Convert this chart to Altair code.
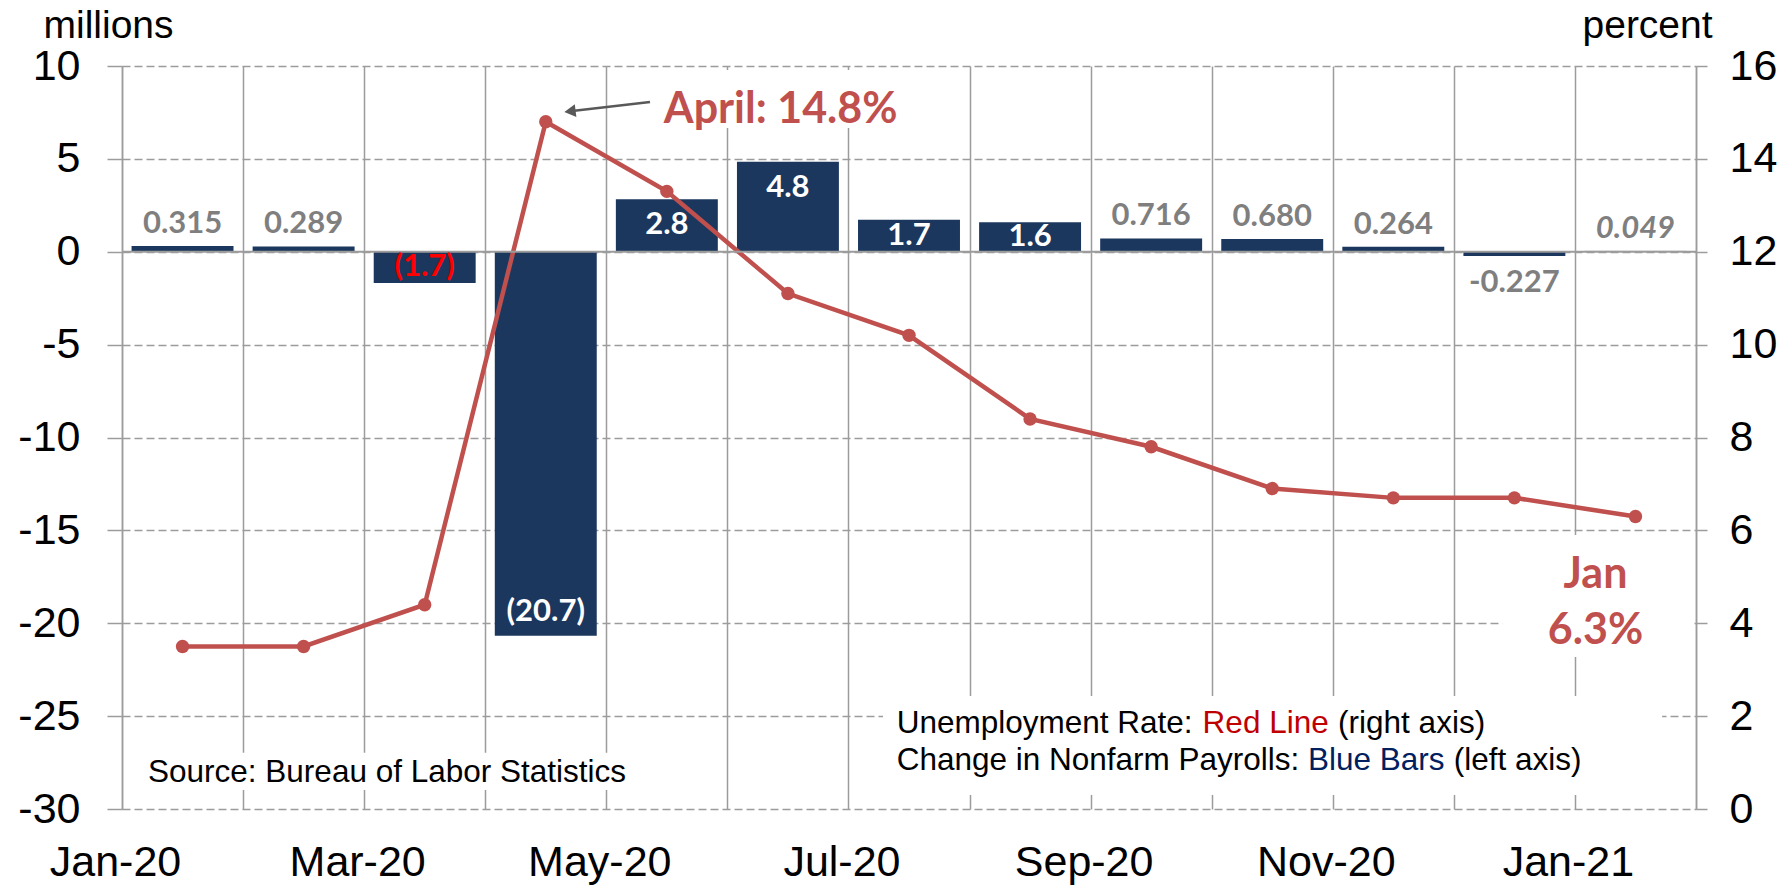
import altair as alt
import pandas as pd

# ---------------- data ----------------
months = ["Jan-20", "Feb-20", "Mar-20", "Apr-20", "May-20", "Jun-20", "Jul-20",
          "Aug-20", "Sep-20", "Oct-20", "Nov-20", "Dec-20", "Jan-21"]
payrolls = [0.315, 0.289, -1.683, -20.679, 2.833, 4.846, 1.726, 1.583,
            0.716, 0.680, 0.264, -0.227, 0.049]
payroll_labels = ["0.315", "0.289", "(1.7)", "(20.7)", "2.8", "4.8", "1.7", "1.6",
                  "0.716", "0.680", "0.264", "-0.227", "0.049"]
unemployment = [3.5, 3.5, 4.4, 14.8, 13.3, 11.1, 10.2, 8.4, 7.8, 6.9, 6.7, 6.7, 6.3]
left_ticks = [-30, -25, -20, -15, -10, -5, 0, 5, 10]
right_ticks = [0, 2, 4, 6, 8, 10, 12, 14, 16]

# annotations (positions in data units: x = month slot, y = left axis millions)
red_notes = ["April: 14.8%", "Jan", "6.3%"]
red_notes_x = [5.44, 12.17, 12.17]
red_notes_y = [6.93, -18.09, -21.12]

legend_texts = ["Unemployment Rate: ", "Red Line", "(right axis)",
                "Change in Nonfarm Payrolls: ", "Blue Bars", "(left axis)"]
legend_x = [6.398, 8.925, 10.044, 6.398, 9.795, 10.999]
legend_y = [-25.89, -25.89, -25.89, -27.9, -27.9, -27.9]
legend_colors = ["#000000", "#C00000", "#000000", "#000000", "#002060", "#000000"]

source_text = ["Source: Bureau of Labor Statistics"]
source_x = [0.215]
source_y = [-28.53]

box_x0 = [4.40, 11.40, 0.05, 6.285]
box_x1 = [6.47, 12.97, 4.28, 12.72]
box_y0 = [9.78, -15.25, -26.97, -23.92]
box_y1 = [6.66, -21.82, -28.98, -29.25]

# ---------------- styles ----------------
GRID = "#9C9C9C"
BAR = "#1B375E"
LINE = "#C0504D"
ARIAL = "Liberation Sans"
CAL = "Lato"
AXFS = 43
TITLEFS = 39

n = len(months)
df = pd.DataFrame({"i": list(range(n)), "month": months, "v": payrolls,
                   "lab": payroll_labels, "u": unemployment})

xs = alt.Scale(domain=[0, n], nice=False, zero=False)
yl = alt.Scale(domain=[-30, 10], nice=False, zero=False)
yr = alt.Scale(domain=[0, 16], nice=False, zero=False)

months_js = "[" + ",".join("'" + m + "'" for m in months) + "]"
x_label_expr = f"(datum.value % 2 == 0 && datum.value < {n}) ? {months_js}[datum.value] : ''"

x_axis = alt.Axis(values=list(range(n + 1)), grid=True, gridColor=GRID, gridWidth=1.5,
                  ticks=False, domain=False, labelExpr=x_label_expr,
                  labelFont=ARIAL, labelFontSize=AXFS, labelColor="#000000",
                  labelPadding=66, labelBaseline="alphabetic", labelFlush=False,
                  labelOverlap=False, labelAngle=0, labelOffset=-7, title=None)

left_axis = alt.Axis(orient="left", values=left_ticks, grid=True, gridColor=GRID,
                     gridWidth=1.5, gridDash=[8, 4], ticks=True, tickSize=15,
                     tickColor=GRID, tickWidth=1.5, domain=True, domainColor=GRID,
                     domainWidth=1.5, labelFont=ARIAL, labelFontSize=AXFS,
                     labelColor="#000000", labelPadding=27, labelFlush=False,
                     labelOverlap=False, labelExpr="'' + datum.value",
                     title="millions", titleAngle=0, titleX=-79,
                     titleY=-29, titleAlign="left", titleBaseline="alphabetic",
                     titleFont=ARIAL, titleFontSize=TITLEFS, titleFontWeight="normal",
                     titleColor="#000000")

right_axis = alt.Axis(orient="right", values=right_ticks, grid=False, ticks=True,
                      tickSize=11, tickColor=GRID, tickWidth=1.5, domain=True,
                      domainColor=GRID, domainWidth=1.5, labelFont=ARIAL,
                      labelFontSize=AXFS, labelColor="#000000", labelPadding=22,
                      labelFlush=False, labelOverlap=False, labelExpr="'' + datum.value",
                      title="percent",
                      titleAngle=0, titleX=-114, titleY=-29, titleAlign="left",
                      titleBaseline="alphabetic", titleFont=ARIAL, titleFontSize=TITLEFS,
                      titleFontWeight="normal", titleColor="#000000")


def X(field):
    return alt.X(field, scale=xs, axis=x_axis)


base = alt.Chart(df).transform_calculate(
    x0="datum.i + 0.079",
    x1="datum.i + 0.921",
    xc="datum.i + 0.5",
    z="0",
    pos="datum.v > 1 ? 'inside' : datum.v >= 0 ? 'above' : datum.v > -1 ? 'below' : datum.v > -10 ? 'center' : 'bottom'",
).transform_calculate(
    ly="datum.pos == 'inside' ? (datum.v < 2 ? datum.v / 2 : datum.v - 1.4) : datum.pos == 'center' ? datum.v / 2 : datum.v"
)

# bars carry the left axis
bars = base.mark_rect().encode(
    x=X("x0:Q"), x2="x1:Q",
    y=alt.Y("v:Q", scale=yl, axis=left_axis), y2="z:Q",
    color=alt.condition("datum.i == 12", alt.value("#BFBFBF"), alt.value(BAR)))

# line carries the right axis
line = base.mark_line(color=LINE, strokeWidth=4.5).encode(
    x=X("xc:Q"),
    y=alt.Y("u:Q", scale=yr, axis=right_axis))
pts = base.mark_circle(color=LINE, size=180, opacity=1).encode(
    x=X("xc:Q"),
    y=alt.Y("u:Q", scale=yr, axis=None))

# white boxes behind annotations (cover gridlines)
boxes = alt.Chart(pd.DataFrame({"bx0": box_x0, "bx1": box_x1, "by0": box_y0, "by1": box_y1})).mark_rect(
    color="white").encode(
    x=X("bx0:Q"), x2="bx1:Q",
    y=alt.Y("by0:Q", scale=yl, axis=None), y2="by1:Q")

zero = alt.Chart(pd.DataFrame({"zy": [0]})).mark_rule(color=GRID, strokeWidth=2).encode(
    y=alt.Y("zy:Q", scale=yl, axis=None))


def lab_layer(filt, color, baseline, dy, style="normal"):
    return base.transform_filter(filt).mark_text(
        font=CAL, fontSize=31, fontWeight="bold", fontStyle=style, color=color,
        baseline=baseline, dy=dy, align="center").encode(
        x=X("xc:Q"),
        y=alt.Y("ly:Q", scale=yl, axis=None),
        text="lab:N")


lab_above = lab_layer("datum.pos == 'above' && datum.i < 12", "#7F7F7F", "alphabetic", -13)
lab_prelim = lab_layer("datum.i == 12", "#7F7F7F", "alphabetic", -13, "italic")
lab_below = lab_layer("datum.pos == 'below'", "#7F7F7F", "top", 12)
lab_inside = lab_layer("datum.pos == 'inside'", "#FFFFFF", "middle", 0)
lab_bottom = lab_layer("datum.pos == 'bottom'", "#FFFFFF", "alphabetic", -15)
lab_center = lab_layer("datum.pos == 'center'", "#FF0000", "middle", 0)

notes = alt.Chart(pd.DataFrame({"t": red_notes, "nx": red_notes_x, "ny": red_notes_y})).mark_text(
    font=CAL, fontSize=43, fontWeight="bold", color=LINE, align="center",
    baseline="alphabetic").encode(
    x=X("nx:Q"), y=alt.Y("ny:Q", scale=yl, axis=None), text="t:N")

legend = alt.Chart(pd.DataFrame({"t": legend_texts, "lx": legend_x, "lyy": legend_y,
                                 "c": legend_colors})).mark_text(
    font=ARIAL, fontSize=31.5, align="left", baseline="alphabetic").encode(
    x=X("lx:Q"), y=alt.Y("lyy:Q", scale=yl, axis=None),
    text="t:N", color=alt.Color("c:N", scale=None))

source = alt.Chart(pd.DataFrame({"t": source_text, "sx": source_x, "sy": source_y})).mark_text(
    font=ARIAL, fontSize=31.5, align="left", baseline="alphabetic", color="#000000").encode(
    x=X("sx:Q"), y=alt.Y("sy:Q", scale=yl, axis=None), text="t:N")

arrow_df = pd.DataFrame({"ax": [4.361], "ay": [8.062], "ax2": [3.70], "ay2": [7.56]})
arrow_line = alt.Chart(arrow_df).mark_rule(color="#595959", strokeWidth=2.5).encode(
    x=X("ax:Q"), y=alt.Y("ay:Q", scale=yl, axis=None),
    x2="ax2:Q", y2="ay2:Q")
arrow_head = alt.Chart(arrow_df).mark_point(
    shape="triangle-left", filled=True, color="#595959", size=170, angle=353, opacity=1).encode(
    x=X("ax2:Q"), y=alt.Y("ay2:Q", scale=yl, axis=None))

chart = alt.layer(
    bars, line, boxes, zero, arrow_line, arrow_head, notes, legend, source,
    pts, lab_above, lab_prelim, lab_below, lab_inside, lab_bottom, lab_center
).resolve_scale(y="independent").properties(
    width=1574, height=743,
    autosize=alt.AutoSizeParams(type="none"),
    padding={"left": 122, "top": 66, "right": 87, "bottom": 76},
).configure_view(stroke=None)

chart.save("out.html", embed_options={"renderer": "svg", "actions": False})
